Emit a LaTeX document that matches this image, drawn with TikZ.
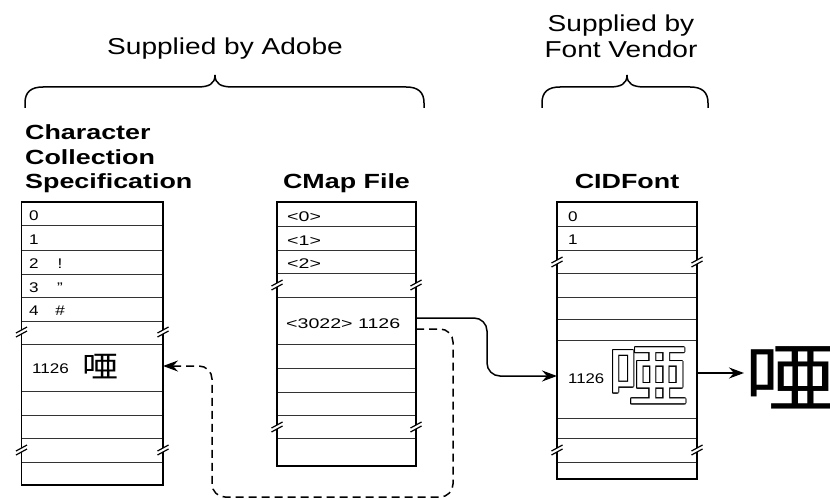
\documentclass[tikz,border=0pt]{standalone}
\usepackage{fontspec}
\usepackage{graphicx}
\setmainfont{Liberation Sans}
\newfontfamily\cjk{Noto Sans CJK JP}
\usetikzlibrary{arrows.meta}
\newcommand\hstretch[2]{\scalebox{#1}[1]{#2}}
\newcommand\mybreak[2]{%
  \fill[white] (#1-5.5,#2+1) -- (#1+5.5,#2-5) -- (#1+5.5,#2-1) -- (#1-5.5,#2+5) -- cycle;
  \draw[brkline] (#1-5.5,#2+1) -- (#1+5.5,#2-5) (#1-5.5,#2+5) -- (#1+5.5,#2-1);}
\begin{document}
\begin{tikzpicture}[x=1pt,y=-1pt,
  frame/.style={line width=1.8pt},
  sepline/.style={line width=1pt, black!80},
  brkline/.style={line width=1.2pt},
  cell/.style={inner sep=0, anchor=base west, font=\fontsize{14}{16}\selectfont},
  cellc/.style={inner sep=0, anchor=base, font=\fontsize{14}{16}\selectfont},
  hd/.style={inner sep=0, anchor=base, font=\fontsize{23}{26}\selectfont},
  ttl/.style={inner sep=0, anchor=base west, font=\bfseries\fontsize{20.5}{24}\selectfont},
  ttlc/.style={inner sep=0, anchor=base, font=\bfseries\fontsize{20.5}{24}\selectfont},
  kan/.style={inner sep=0, font=\cjk\fontsize{30}{32}\selectfont},
  oglyph/.style={inner sep=0, font=\cjk\fontsize{68}{70}\selectfont},
  bigglyph/.style={inner sep=0, font=\cjk\fontsize{76}{80}\selectfont},
  rowsel/.style={inner sep=0, outer sep=0, draw=none},
  conn/.style={line width=1.5pt, -{Stealth[length=15pt,width=11pt,inset=5pt]}},
  dashconn/.style={dash pattern=on 8pt off 5pt},
  brace/.style={line width=1.5pt}]
\useasboundingbox (0,0) rectangle (830,500);

% headings
\node[hd] (adobe) at (225,55) {\hstretch{1.22}{Supplied by Adobe}};
\node[hd] (vend1) at (621,32) {\hstretch{1.22}{Supplied by}};
\node[hd] (vend2) at (621,58) {\hstretch{1.22}{Font Vendor}};

% braces
\draw[brace] (25,108) -- (25,103) .. controls (25,92) and (31,87) .. (43,87) -- (197,87)
  .. controls (209,87) and (215,84) .. (215,75) .. controls (215,84) and (221,87) .. (233,87)
  -- (406,87) .. controls (418,87) and (424,92) .. (424,103) -- (424,108);
\draw[brace] (542,108) -- (542,103) .. controls (542,92) and (548,87) .. (560,87) -- (609,87)
  .. controls (621,87) and (627,84) .. (627,75) .. controls (627,84) and (633,87) .. (645,87)
  -- (690,87) .. controls (702,87) and (708,92) .. (708,103) -- (708,108);

% titles
\node[ttl] (t1) at (25,140) {\hstretch{1.31}{Character}};
\node[ttl] (t2) at (25,164.5) {\hstretch{1.31}{Collection}};
\node[ttl] (t3) at (25,189) {\hstretch{1.31}{Specification}};
\node[ttlc] (t4) at (346.5,189) {\hstretch{1.31}{CMap File}};
\node[ttlc] (t5) at (627,189) {\hstretch{1.31}{CIDFont}};

% left column
\foreach \y in {225,250,274,297,321,344,391,415,438,462}
  \draw[sepline] (21.5,\y) -- (163,\y);
\draw[frame] (21.5,202) rectangle (163,485);
\mybreak{21.5}{332}\mybreak{163}{332}
\mybreak{21.5}{450}\mybreak{163}{450}

% middle column
\foreach \y in {226,250,273,297,344,368,392,415,438}
  \draw[sepline] (277,\y) -- (416,\y);
\draw[frame] (277,202) rectangle (416,466);
\mybreak{277}{285}\mybreak{416}{285}
\mybreak{277}{427}\mybreak{416}{427}

% right column
\foreach \y in {226,250,273,297,319,340,418,438,462}
  \draw[sepline] (557,\y) -- (697,\y);
\draw[frame] (557,202) rectangle (697,479);
\mybreak{557}{262}\mybreak{697}{262}
\mybreak{557}{450}\mybreak{697}{450}

% key rows
\node[rowsel, minimum width=141.5pt, minimum height=47pt] (lrow) at (92.25,367.5) {};
\node[rowsel, minimum width=139pt, minimum height=47pt] (mrow) at (346.5,320.5) {};
\node[rowsel, minimum width=140pt, minimum height=78pt] (rrow) at (627,379) {};

% left texts
\node[cell] (l0) at (29,220) {\hstretch{1.22}{0}};
\node[cell] (l1) at (29,244) {\hstretch{1.22}{1}};
\node[cell] (l2) at (29,268) {\hstretch{1.22}{2}};
\node[cell] (l3) at (29,292) {\hstretch{1.22}{3}};
\node[cell] (l4) at (29,315) {\hstretch{1.22}{4}};
\node[cellc] (l2s) at (60,268) {\hstretch{1.22}{!}};
\node[cellc] (l3s) at (60,292) {\hstretch{1.22}{"}};
\node[cellc] (l4s) at (60,315) {\hstretch{1.22}{\#}};
\node[cell] (l1126) at (32,373) {\hstretch{1.22}{1126}};
\node[kan] (lk) at (100.5,366.5) {\hstretch{1.2}{唖}};

% middle texts
\node[cell] (m0) at (287,221) {\hstretch{1.4}{<0>}};
\node[cell] (m1) at (287,245) {\hstretch{1.4}{<1>}};
\node[cell] (m2) at (287,268) {\hstretch{1.4}{<2>}};
\node[cell] (m3022) at (286,328) {\hstretch{1.4}{<3022> 1126}};

% right texts
\node[cell] (r0) at (568,221) {\hstretch{1.22}{0}};
\node[cell] (r1) at (568,244) {\hstretch{1.22}{1}};
\node[cell] (r1126) at (568,383) {\hstretch{1.2}{1126}};
\foreach \a in {0,30,...,330}
  \node[oglyph, text=black] at ([shift={(\a:0.9pt)}]648,376) {\hstretch{1.2}{唖}};
\node[oglyph, text=white] (rglyph) at (648,376) {\hstretch{1.2}{唖}};

% big glyph
\node[bigglyph, anchor=west] (big) at (744,378) {\hstretch{1.2}{唖}};

% connectors
\draw[conn, rounded corners=13pt] ([yshift=2.5pt]mrow.east) -- ++(71,0) |- ([yshift=3pt]rrow.west);
\draw[conn, dashconn, rounded corners=13pt] ([yshift=-8.5pt]mrow.east) -- ++(37,0) -- ++(0,168)
  -| ([xshift=49pt,yshift=1.5pt]lrow.east) -- ([yshift=1.5pt]lrow.east);
\coordinate (outstart) at ([yshift=6pt]rrow.east);
\draw[conn] (outstart) -- (outstart -| big.west);
\end{tikzpicture}
\end{document}
